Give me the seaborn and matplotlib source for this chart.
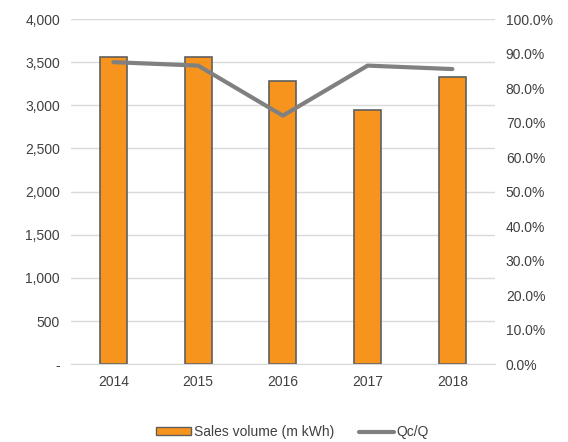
import numpy as np
import pandas as pd
import seaborn as sns
import matplotlib.pyplot as plt
from matplotlib.ticker import FuncFormatter, FixedLocator
from matplotlib.patches import Patch
from matplotlib.lines import Line2D

years = ["2014", "2015", "2016", "2017", "2018"]
sales = [3560, 3560, 3280, 2950, 3330]  # m kWh
qc_q = [0.875, 0.865, 0.720, 0.865, 0.855]

bar_color = "#F7941D"
edge_color = "#5F5F5F"
line_color = "#808080"
text_color = "#404040"

sns.set_style("white")
plt.rcParams["font.family"] = ["Liberation Sans", "DejaVu Sans"]

df = pd.DataFrame({"year": years, "sales": sales, "qc": qc_q})

fig = plt.figure(figsize=(5.68, 4.42), dpi=100)
ax = fig.add_axes([0.125, 0.176, 0.746, 0.781])

sns.barplot(data=df, x="year", y="sales", color=bar_color, edgecolor=edge_color,
            linewidth=1.2, width=0.32, saturation=1, ax=ax)
ax.set_ylim(0, 4000)
ax.set_xlim(-0.5, len(years) - 0.5)
ax.set_yticks(np.arange(0, 4001, 500))
ax.yaxis.set_major_formatter(FuncFormatter(lambda v, p: "-" if v == 0 else f"{v:,.0f}"))
ax.yaxis.grid(True, color="#D9D9D9", linewidth=1)
ax.set_axisbelow(True)
ax.set_xlabel("")
ax.set_ylabel("")
for s in ["top", "right", "left"]:
    ax.spines[s].set_visible(False)
ax.spines["bottom"].set_color("#D9D9D9")
ax.tick_params(axis="y", length=0, labelsize=10, colors=text_color, pad=8)
ax.tick_params(axis="x", length=0, labelsize=10, colors=text_color, pad=8)
ax.xaxis.set_minor_locator(FixedLocator(np.arange(-0.5, len(years), 1)))
ax.tick_params(axis="x", which="minor", length=5, color="#D9D9D9")

ax2 = ax.twinx()
sns.lineplot(x=np.arange(len(years)), y=qc_q, color=line_color, linewidth=3, ax=ax2)
ax2.set_ylim(0, 1.0)
ax2.set_yticks(np.arange(0, 1.01, 0.1))
ax2.yaxis.set_major_formatter(FuncFormatter(lambda v, p: f"{v*100:.1f}%"))
for s in ["top", "right", "left", "bottom"]:
    ax2.spines[s].set_visible(False)
ax2.tick_params(axis="y", length=0, labelsize=10, colors=text_color, pad=8)
ax2.set_xlim(-0.5, len(years) - 0.5)

handles = [Patch(facecolor=bar_color, edgecolor=edge_color, linewidth=1),
           Line2D([0], [0], color=line_color, linewidth=3)]
fig.legend(handles, ["Sales volume (m kWh)", "Qc/Q"], loc="center",
           bbox_to_anchor=(0.515, 0.022), ncol=2, frameon=False, fontsize=10,
           handlelength=2.5, handleheight=0.5, handletextpad=0.2, columnspacing=1.8,
           labelcolor=text_color)

fig.savefig("out.png", dpi=100)
